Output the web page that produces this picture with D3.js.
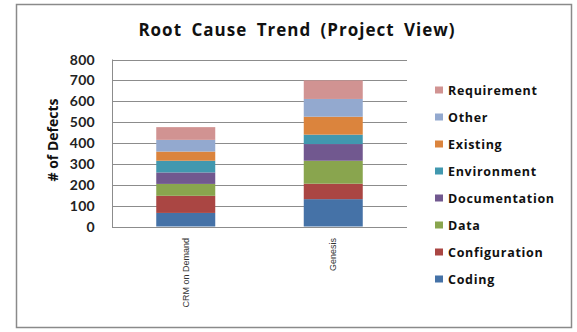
<!DOCTYPE html>
<html>
<head>
<meta charset="utf-8">
<script src="https://cdn.jsdelivr.net/npm/d3@7"></script>
<style>
  html, body { margin: 0; padding: 0; background: #fff; }
  svg { display: block; }
  .tick-y { font: bold 14px Lato, sans-serif; fill: #222; letter-spacing: 0.3px; }
  .legend text { font: bold 12.5px "Open Sans", sans-serif; fill: #111; letter-spacing: 0.7px; }
</style>
</head>
<body>
<svg id="chart" width="577" height="332"></svg>
<script>
const projects = ['CRM on Demand', 'Genesis'];
const causes = ['Coding', 'Configuration', 'Data', 'Documentation', 'Environment', 'Existing', 'Other', 'Requirement'];
const crmValues = [65, 82, 57, 55, 56, 44, 56, 61];
const genesisValues = [131, 74, 110, 80, 45, 86, 85, 89];
const colors = ['#4572A7', '#AA4643', '#89A54E', '#71588F', '#4198AF', '#DB843D', '#93A9CF', '#D19392'];
const yTicks = [0, 100, 200, 300, 400, 500, 600, 700, 800];

const rows = projects.map((p, i) => {
  const vals = i === 0 ? crmValues : genesisValues;
  const r = { project: p };
  causes.forEach((c, j) => { r[c] = vals[j]; });
  return r;
});

const svg = d3.select('#chart');
const plot = { left: 112, right: 407, top: 59.5, bottom: 226.5 };

// chart frame
svg.append('rect')
  .attr('x', 16.5).attr('y', 4.5)
  .attr('width', 555).attr('height', 323)
  .attr('fill', '#fff').attr('stroke', '#8a8a8a').attr('stroke-width', 1.5);

const x = d3.scaleBand()
  .domain(projects)
  .range([plot.left, plot.right])
  .paddingInner(0.6)
  .paddingOuter(0.3);

const y = d3.scaleLinear()
  .domain([0, 800])
  .range([plot.bottom, plot.top]);

// gridlines
svg.append('g')
  .selectAll('line')
  .data(yTicks)
  .join('line')
  .attr('x1', plot.left).attr('x2', plot.right)
  .attr('y1', d => Math.round(y(d)) + 0.5).attr('y2', d => Math.round(y(d)) + 0.5)
  .attr('stroke', '#8c8c8c').attr('stroke-width', 1);

// left axis line
svg.append('line')
  .attr('x1', plot.left + 0.5).attr('x2', plot.left + 0.5)
  .attr('y1', plot.top).attr('y2', plot.bottom + 1)
  .attr('stroke', '#8c8c8c');

// y tick labels
svg.append('g')
  .selectAll('text')
  .data(yTicks)
  .join('text')
  .attr('class', 'tick-y')
  .attr('x', 95)
  .attr('y', d => y(d))
  .attr('dy', '0.36em')
  .attr('text-anchor', 'end')
  .text(d => d);

// stacked bars
const series = d3.stack().keys(causes)(rows);
svg.append('g')
  .selectAll('g')
  .data(series)
  .join('g')
  .attr('fill', (d, i) => colors[i])
  .selectAll('rect')
  .data(d => d)
  .join('rect')
  .attr('x', d => x(d.data.project))
  .attr('width', x.bandwidth())
  .attr('y', d => y(d[1]))
  .attr('height', d => y(d[0]) - y(d[1]));

// x labels, rotated
svg.append('g')
  .selectAll('text')
  .data(projects)
  .join('text')
  .attr('transform', d => `translate(${x(d) + x.bandwidth() / 2 + 3},238) rotate(-90)`)
  .attr('text-anchor', 'end')
  .style('font', '9px "Liberation Sans", Arial, sans-serif')
  .attr('fill', '#333')
  .text(d => d);

// y axis title
svg.append('text')
  .attr('transform', 'translate(58,140) rotate(-90)')
  .attr('text-anchor', 'middle')
  .style('font', 'bold 14px "Open Sans", sans-serif')
  .attr('fill', '#111')
  .text('# of Defects');

// title
svg.append('text')
  .attr('x', 297).attr('y', 36)
  .attr('text-anchor', 'middle')
  .style('font', 'bold 17px "Open Sans", sans-serif')
  .style('letter-spacing', '1px')
  .style('word-spacing', '4px')
  .attr('fill', '#111')
  .text('Root Cause Trend (Project View)');

// legend, reversed order
const legend = svg.append('g').attr('class', 'legend');
const legendItems = causes.slice().reverse();
const ly = d3.scalePoint().domain(legendItems).range([90, 279]);
const item = legend.selectAll('g')
  .data(legendItems)
  .join('g')
  .attr('transform', d => `translate(435,${ly(d)})`);
item.append('rect')
  .attr('x', 0).attr('y', -3.5)
  .attr('width', 8).attr('height', 7)
  .attr('fill', d => colors[causes.indexOf(d)]);
item.append('text')
  .attr('x', 13).attr('dy', '0.36em')
  .text(d => d);
</script>
</body>
</html>
